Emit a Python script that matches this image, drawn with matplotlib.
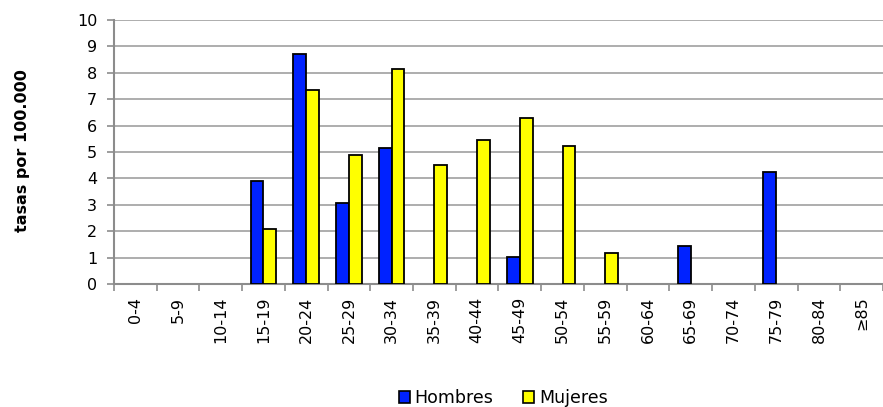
import matplotlib
matplotlib.use("Agg")
import matplotlib.pyplot as plt
import numpy as np
from matplotlib.patches import Patch

plt.rcParams['font.family'] = ['DejaVu Sans']

categories = ["0-4", "5-9", "10-14", "15-19", "20-24", "25-29", "30-34", "35-39",
              "40-44", "45-49", "50-54", "55-59", "60-64", "65-69", "70-74", "75-79",
              "80-84", "≥85"]
hombres = [0, 0, 0, 3.92, 8.70, 3.08, 5.15, 0, 0, 1.04, 0, 0, 0, 1.46, 0, 4.25, 0, 0]
mujeres = [0, 0, 0, 2.08, 7.35, 4.87, 8.14, 4.51, 5.47, 6.29, 5.23, 1.18, 0, 0, 0, 0, 0, 0]
yticks = list(range(0, 11))

fig = plt.figure(figsize=(8.83, 4.07), dpi=100)
ax = fig.add_axes([0.129, 0.302, 0.871, 0.649])

x = np.arange(len(categories))
w = 0.3
gray = "#8c8c8c"
for xi, v in zip(x, hombres):
    if v > 0:
        ax.bar(xi - w / 2, v, width=w, color="#0022ff", edgecolor="black", linewidth=1.3, zorder=3)
for xi, v in zip(x, mujeres):
    if v > 0:
        ax.bar(xi + w / 2, v, width=w, color="#ffff00", edgecolor="black", linewidth=1.3, zorder=3)

ax.set_xlim(-0.5, len(categories) - 0.5)
ax.set_ylim(0, 10)
ax.set_yticks(yticks)
ax.set_yticklabels([str(t) for t in yticks], fontsize=11.5)
ax.yaxis.grid(True, color="#a0a0a0", linewidth=1.2, zorder=0)
ax.set_axisbelow(True)

ax.set_xticks(x)
ax.set_xticklabels(categories, rotation=90, fontsize=11.5, va="top")
ax.set_xticks(np.arange(-0.5, len(categories), 1), minor=True)
ax.tick_params(axis="x", which="major", length=0, pad=9)
ax.tick_params(axis="x", which="minor", length=5, color=gray, width=1.2)
ax.tick_params(axis="y", length=5, color=gray, width=1.2, pad=7)

for s in ["top", "right"]:
    ax.spines[s].set_visible(False)
for s in ["left", "bottom"]:
    ax.spines[s].set_color(gray)
    ax.spines[s].set_linewidth(1.5)

fig.text(0.025, 0.631, "tasas por 100.000", rotation=90, fontsize=11.5, fontweight="bold",
         ha="center", va="center")

handles = [Patch(facecolor="#0022ff", edgecolor="black", linewidth=1.2, label="Hombres"),
           Patch(facecolor="#ffff00", edgecolor="black", linewidth=1.2, label="Mujeres")]
fig.legend(handles=handles, loc="center", bbox_to_anchor=(0.57, 0.022), ncol=2,
           frameon=False, fontsize=12.5, handlelength=0.65, handleheight=0.65,
           handletextpad=0.25, columnspacing=1.7, borderpad=0)

fig.savefig("out.png", dpi=100)
